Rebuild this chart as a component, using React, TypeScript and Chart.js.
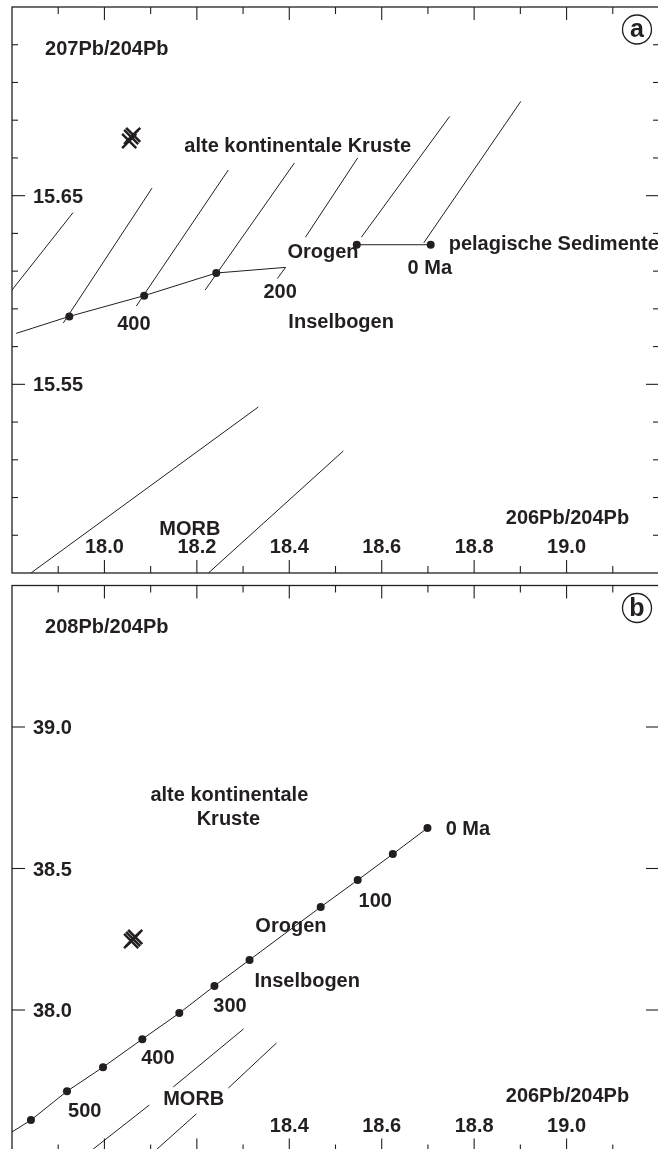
import React, { useEffect, useRef } from "react";
import { Chart, registerables } from "chart.js";

Chart.register(...registerables);

const FONT = '"Liberation Sans", Arial, Helvetica, sans-serif';
const INK = "#231f20";

// ---------- shared x axis (206Pb/204Pb) ----------
const X_MIN = 17.8;
const X_MAX = 19.2;
const xMajorTicks = [18.0, 18.2, 18.4, 18.6, 18.8, 19.0];
const xMinorTicks = [17.9, 18.1, 18.3, 18.5, 18.7, 18.9, 19.1];
const xLabelValuesA = [18.0, 18.2, 18.4, 18.6, 18.8, 19.0];
const xLabelValuesB = [18.4, 18.6, 18.8, 19.0];

// ---------- panel a (207Pb/204Pb) ----------
const A_Y_MIN = 15.45;
const A_Y_MAX = 15.75;
const aYMajorTicks = [15.55, 15.65];
const aYMinorTicks = [15.47, 15.49, 15.51, 15.53, 15.57, 15.59, 15.61, 15.63, 15.67, 15.69, 15.71, 15.73];

const aCurveLower: number[][] = [
  [17.809, 15.577], [17.924, 15.586], [18.086, 15.597], [18.242, 15.609], [18.392, 15.612],
];
const aCurveUpper: number[][] = [[18.546, 15.624], [18.706, 15.624]];
const aAgeDots: number[][] = [
  [17.924, 15.586], [18.086, 15.597], [18.242, 15.609], [18.546, 15.624], [18.706, 15.624],
];
const aIsochrons: number[][][] = [
  [[17.8, 15.6], [17.932, 15.641]],
  [[17.911, 15.5825], [18.103, 15.654]],
  [[18.069, 15.5915], [18.268, 15.6636]],
  [[18.218, 15.6], [18.411, 15.6673]],
  [[18.435, 15.628], [18.548, 15.67]],
  [[18.374, 15.606], [18.392, 15.612]],
  [[18.556, 15.628], [18.747, 15.692]],
  [[18.691, 15.625], [18.901, 15.7]],
];
const aMorb: number[][][] = [
  [[17.841, 15.45], [18.333, 15.538]],
  [[18.225, 15.45], [18.517, 15.5147]],
];
const aSamples: number[][] = [[18.0536, 15.679], [18.0622, 15.6822], [18.0579, 15.6811]];

const aTexts = [
  { text: "207Pb/204Pb", x: 17.8715, y: 15.7246, align: "left" },
  { text: "alte kontinentale Kruste", x: 18.1728, y: 15.6731, align: "left" },
  { text: "Orogen", x: 18.396, y: 15.617, align: "left" },
  { text: "pelagische Sedimente", x: 18.7449, y: 15.6212, align: "left" },
  { text: "0 Ma", x: 18.656, y: 15.6085, align: "left" },
  { text: "200", x: 18.344, y: 15.5958, align: "left" },
  { text: "400", x: 18.0276, y: 15.5788, align: "left" },
  { text: "Inselbogen", x: 18.398, y: 15.5799, align: "left" },
  { text: "MORB", x: 18.1186, y: 15.4701, align: "left" },
  { text: "206Pb/204Pb", x: 18.8684, y: 15.476, align: "left" },
];

// ---------- panel b (208Pb/204Pb) ----------
const B_Y_MIN = 37.5;
const B_Y_MAX = 39.5;
const bYMajorTicks = [38.0, 38.5, 39.0];
const bYMinorTicks: number[] = [];

const bCurve: number[][] = [
  [17.8, 37.569], [17.841, 37.611], [17.919, 37.713], [17.997, 37.798], [18.082, 37.897],
  [18.162, 37.989], [18.238, 38.085], [18.314, 38.177], [18.468, 38.364], [18.548, 38.459],
  [18.624, 38.551], [18.699, 38.643],
];
const bAgeDots: number[][] = [
  [17.841, 37.611], [17.919, 37.713], [17.997, 37.798], [18.082, 37.897], [18.162, 37.989],
  [18.238, 38.085], [18.314, 38.177], [18.468, 38.364], [18.548, 38.459], [18.624, 38.551],
  [18.699, 38.643],
];
const bMorb: number[][][] = [
  [[18.149, 37.728], [18.301, 37.933]],
  [[17.969, 37.5], [18.097, 37.664]],
  [[18.268, 37.724], [18.372, 37.883]],
  [[18.108, 37.5], [18.199, 37.633]],
];
const bSamples: number[][] = [[18.0579, 38.2438], [18.0666, 38.258], [18.0622, 38.251]];

const bTexts = [
  { text: "208Pb/204Pb", x: 17.8715, y: 39.332, align: "left" },
  { text: "alte kontinentale", x: 18.2703, y: 38.739, align: "center" },
  { text: "Kruste", x: 18.2681, y: 38.654, align: "center" },
  { text: "0 Ma", x: 18.7384, y: 38.619, align: "left" },
  { text: "100", x: 18.5499, y: 38.364, align: "left" },
  { text: "Orogen", x: 18.3266, y: 38.276, align: "left" },
  { text: "Inselbogen", x: 18.3245, y: 38.082, align: "left" },
  { text: "300", x: 18.2356, y: 37.993, align: "left" },
  { text: "400", x: 18.0796, y: 37.809, align: "left" },
  { text: "500", x: 17.9214, y: 37.622, align: "left" },
  { text: "MORB", x: 18.1272, y: 37.665, align: "left" },
  { text: "206Pb/204Pb", x: 18.8684, y: 37.675, align: "left" },
];

type Txt = { text: string; x: number; y: number; align: string };

const toPts = (arr: number[][]) => arr.map(([x, y]) => ({ x, y }));

function lineDs(arr: number[][]) {
  return {
    data: toPts(arr),
    showLine: true,
    borderColor: INK,
    borderWidth: 1,
    pointRadius: 0,
    fill: false,
  };
}

function dotsDs(arr: number[][]) {
  return {
    data: toPts(arr),
    showLine: false,
    pointRadius: 4,
    pointBackgroundColor: INK,
    pointBorderColor: INK,
    pointBorderWidth: 0,
  };
}

function crossDs(arr: number[][]) {
  return {
    data: toPts(arr),
    showLine: false,
    pointStyle: "crossRot",
    pointRadius: 10,
    pointBorderColor: INK,
    pointBorderWidth: 2.5,
  };
}

function makeFramePlugin(cfg: {
  yMajor: number[];
  yMinor: number[];
  yLabelDigits: number;
  xLabels: number[];
  texts: Txt[];
  letter: string;
}) {
  return {
    id: "frameDeco",
    afterDraw(chart: any) {
      const ctx = chart.ctx as CanvasRenderingContext2D;
      const { left, right, top, bottom } = chart.chartArea;
      const xs = chart.scales.x;
      const ys = chart.scales.y;
      ctx.save();
      ctx.strokeStyle = INK;
      ctx.fillStyle = INK;
      ctx.lineWidth = 1.3;
      ctx.strokeRect(left, top, right - left, bottom - top);

      ctx.lineWidth = 1.1;
      const seg = (x1: number, y1: number, x2: number, y2: number) => {
        ctx.beginPath();
        ctx.moveTo(x1, y1);
        ctx.lineTo(x2, y2);
        ctx.stroke();
      };
      xMajorTicks.forEach((v) => {
        const p = xs.getPixelForValue(v);
        seg(p, top, p, top + 13);
        seg(p, bottom, p, bottom - 13);
      });
      xMinorTicks.forEach((v) => {
        const p = xs.getPixelForValue(v);
        seg(p, top, p, top + 7);
        seg(p, bottom, p, bottom - 7);
      });
      cfg.yMajor.forEach((v) => {
        const p = ys.getPixelForValue(v);
        seg(left, p, left + 13, p);
        seg(right, p, right - 13, p);
      });
      cfg.yMinor.forEach((v) => {
        const p = ys.getPixelForValue(v);
        seg(left, p, left + 6, p);
        seg(right, p, right - 6, p);
      });

      ctx.font = `bold 20px ${FONT}`;
      ctx.textBaseline = "alphabetic";
      // y tick labels
      ctx.textAlign = "left";
      cfg.yMajor.forEach((v) => {
        const p = ys.getPixelForValue(v);
        ctx.fillText(v.toFixed(cfg.yLabelDigits), left + 21, p + 7);
      });
      // x tick labels
      ctx.textAlign = "center";
      cfg.xLabels.forEach((v) => {
        const p = xs.getPixelForValue(v);
        ctx.fillText(v.toFixed(1), p, bottom - 20);
      });
      // annotations
      cfg.texts.forEach((t) => {
        ctx.textAlign = t.align as CanvasTextAlign;
        ctx.fillText(t.text, xs.getPixelForValue(t.x), ys.getPixelForValue(t.y));
      });
      // panel letter
      const cx = right - 22;
      const cy = top + 22.5;
      ctx.lineWidth = 1.3;
      ctx.beginPath();
      ctx.arc(cx, cy, 14.5, 0, Math.PI * 2);
      ctx.stroke();
      ctx.font = `bold 25px ${FONT}`;
      ctx.textAlign = "center";
      ctx.textBaseline = "middle";
      ctx.fillText(cfg.letter, cx, cy + 1);
      ctx.restore();
    },
  };
}

function buildConfig(
  datasets: any[],
  yMin: number,
  yMax: number,
  padding: any,
  plugin: any
) {
  return {
    type: "scatter" as const,
    data: { datasets },
    options: {
      animation: false as const,
      responsive: false,
      devicePixelRatio: 1,
      events: [] as any[],
      layout: { padding, autoPadding: false },
      plugins: { legend: { display: false }, tooltip: { enabled: false } },
      scales: {
        x: { type: "linear" as const, min: X_MIN, max: X_MAX, display: false },
        y: { type: "linear" as const, min: yMin, max: yMax, display: false },
      },
    },
    plugins: [plugin],
  };
}

export default function App() {
  const refA = useRef<HTMLCanvasElement>(null);
  const refB = useRef<HTMLCanvasElement>(null);

  useEffect(() => {
    const dsA = [
      lineDs(aCurveLower),
      lineDs(aCurveUpper),
      ...aIsochrons.map(lineDs),
      ...aMorb.map(lineDs),
      dotsDs(aAgeDots),
      crossDs(aSamples),
    ];
    const dsB = [lineDs(bCurve), ...bMorb.map(lineDs), dotsDs(bAgeDots), crossDs(bSamples)];

    const chartA = new Chart(
      refA.current as HTMLCanvasElement,
      buildConfig(
        dsA,
        A_Y_MIN,
        A_Y_MAX,
        { left: 12, right: 0, top: 7, bottom: 7 },
        makeFramePlugin({
          yMajor: aYMajorTicks,
          yMinor: aYMinorTicks,
          yLabelDigits: 2,
          xLabels: xLabelValuesA,
          texts: aTexts,
          letter: "a",
        })
      ) as any
    );
    const chartB = new Chart(
      refB.current as HTMLCanvasElement,
      buildConfig(
        dsB,
        B_Y_MIN,
        B_Y_MAX,
        { left: 12, right: 0, top: 5.5, bottom: 3.5 },
        makeFramePlugin({
          yMajor: bYMajorTicks,
          yMinor: bYMinorTicks,
          yLabelDigits: 1,
          xLabels: xLabelValuesB,
          texts: bTexts,
          letter: "b",
        })
      ) as any
    );
    return () => {
      chartA.destroy();
      chartB.destroy();
    };
  }, []);

  return (
    <div
      style={{
        position: "fixed",
        left: 0,
        top: 0,
        width: 658,
        height: 1149,
        overflow: "hidden",
        background: "#ffffff",
      }}
    >
      <canvas
        ref={refA}
        width={659}
        height={580}
        style={{ position: "absolute", left: 0, top: 0, width: 659, height: 580 }}
      />
      <canvas
        ref={refB}
        width={659}
        height={575}
        style={{ position: "absolute", left: 0, top: 580, width: 659, height: 575 }}
      />
    </div>
  );
}
